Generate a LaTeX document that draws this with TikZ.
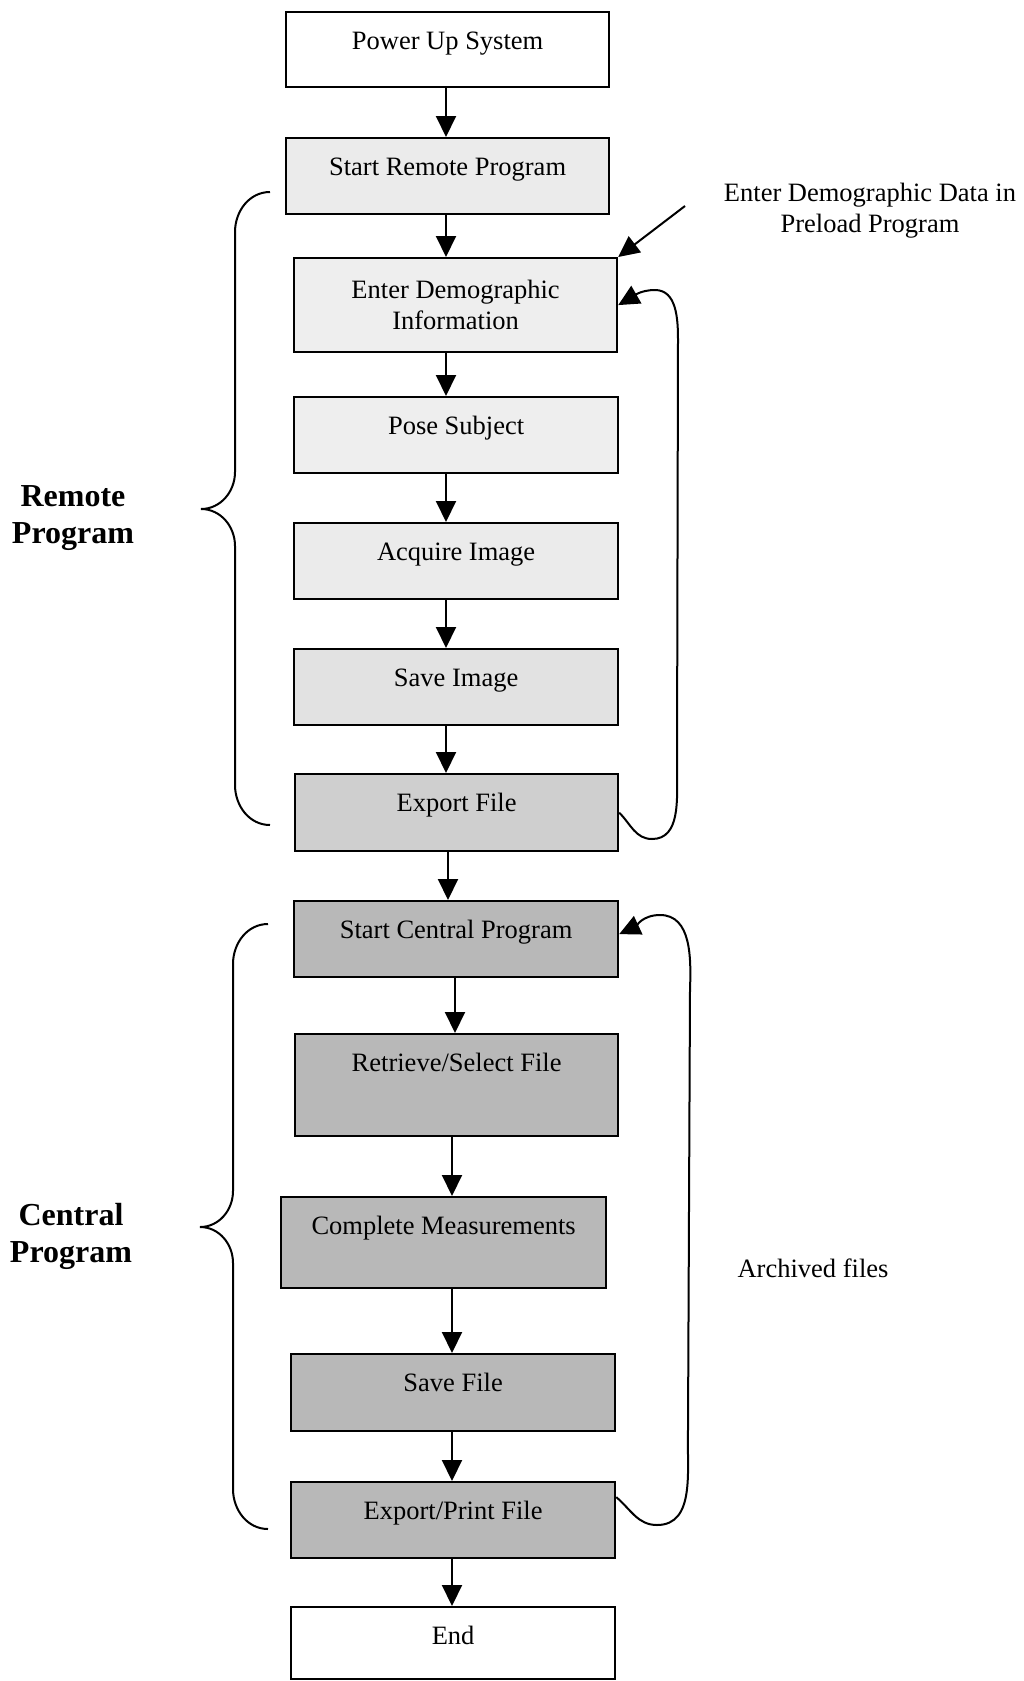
\documentclass[tikz,border=0pt]{standalone}
\usepackage{fontspec}
\setmainfont{Liberation Serif}
\usetikzlibrary{arrows.meta}
\definecolor{gA}{HTML}{EBEBEB}
\definecolor{gB}{HTML}{EEEEEE}
\definecolor{gC}{HTML}{E2E2E2}
\definecolor{gD}{HTML}{CFCFCF}
\definecolor{gE}{HTML}{B8B8B8}
\begin{document}
\begin{tikzpicture}[x=1pt,y=-1pt,
  boxbase/.style={draw=black, line width=2.2pt, anchor=north west, inner xsep=0pt, inner ysep=0pt,
    align=center, font=\fontsize{26.5}{31}\selectfont},
  box/.style={boxbase, text height=37pt},
  arr/.style={line width=2pt, -{Triangle[length=21pt,width=20pt]}},
  loop/.style={line width=2pt, -{Triangle[length=21pt,width=20pt]}},
  brc/.style={line width=2pt},
  lbl/.style={font=\fontsize{26.5}{31}\selectfont, align=center},
  blbl/.style={font=\fontsize{32}{37}\selectfont\bfseries, align=center}]
\useasboundingbox (0,0) rectangle (1023,1681);

% boxes
\node[box, fill=white, minimum width=323pt, text depth=38pt] (pu) at (285,11) {Power Up System};
\node[box, fill=gA, minimum width=323pt, text depth=39pt] (sr) at (285,137) {Start Remote Program};
\node[boxbase, fill=gB, minimum width=323pt, minimum height=94pt] (ed) at (293,257) {Enter Demographic\\Information};
\node[box, fill=gB, minimum width=324pt, text depth=39pt] (ps) at (293,396) {Pose Subject};
\node[box, fill=gA, minimum width=324pt, text depth=39pt] (ai) at (293,522) {Acquire Image};
\node[box, fill=gC, minimum width=324pt, text depth=39pt] (si) at (293,648) {Save Image};
\node[box, fill=gD, minimum width=323pt, text depth=40pt] (ef) at (294,773) {Export File};
\node[box, fill=gE, minimum width=324pt, text depth=39pt] (sc) at (293,900) {Start Central Program};
\node[box, fill=gE, minimum width=323pt, text depth=65pt] (rs) at (294,1033) {Retrieve/Select File};
\node[box, fill=gE, minimum width=325pt, text depth=54pt] (cm) at (280,1196) {Complete Measurements};
\node[box, fill=gE, minimum width=324pt, text depth=40pt] (sf) at (290,1353) {Save File};
\node[box, fill=gE, minimum width=324pt, text depth=39pt] (ep) at (290,1481) {Export/Print File};
\node[box, fill=white, minimum width=324pt, text depth=35pt] (en) at (290,1606) {End};

% arrow columns
\coordinate (xa) at (446,0);
\coordinate (xb) at (448,0);
\coordinate (xc) at (455,0);
\coordinate (xd) at (452,0);

\draw[arr] (pu.south -| xa) -- (sr.north -| xa);
\draw[arr] (sr.south -| xa) -- (ed.north -| xa);
\draw[arr] (ed.south -| xa) -- (ps.north -| xa);
\draw[arr] (ps.south -| xa) -- (ai.north -| xa);
\draw[arr] (ai.south -| xa) -- (si.north -| xa);
\draw[arr] (si.south -| xa) -- (ef.north -| xa);
\draw[arr] (ef.south -| xb) -- (sc.north -| xb);
\draw[arr] (sc.south -| xc) -- (rs.north -| xc);
\draw[arr] (rs.south -| xd) -- (cm.north -| xd);
\draw[arr] (cm.south -| xd) -- (sf.north -| xd);
\draw[arr] (sf.south -| xd) -- (ep.north -| xd);
\draw[arr] (ep.south -| xd) -- (en.north -| xd);

% annotation
\node[lbl] (pre) at (870,211) {Enter Demographic Data in\\Preload Program};
\coordinate (prestart) at (685,206);
\draw[arr] (prestart) -- (ed.north east);

% loop back arrows
\draw[loop] (ef.east) to[out=-45,in=180] (652,839) to[out=0,in=-90] (677,770)
  -- (678,340) to[out=90,in=0] (655,290) to[out=180,in=30] (ed.east);
\draw[loop] ([yshift=23pt]ep.east) to[out=-40,in=180] (657,1525) to[out=0,in=-92] (688,1430)
  -- (690,990) to[out=88,in=0] (660,915) to[out=180,in=25] ([yshift=5pt]sc.east);
\node[lbl] (arch) at (813,1268) {Archived files};

% braces
\draw[brc] (270,192) to[out=180,in=90] (235,232) -- (235,472) to[out=-90,in=0] (201,509)
  to[out=0,in=90] (235,546) -- (235,785) to[out=-90,in=180] (270,825);
\draw[brc] (268,924) to[out=180,in=90] (233,964) -- (233,1191) to[out=-90,in=0] (200,1227)
  to[out=0,in=90] (233,1263) -- (233,1489) to[out=-90,in=180] (268,1529);

\node[blbl] (rp) at (73,518) {Remote\\Program};
\node[blbl] (cp) at (71,1236) {Central\\Program};
\end{tikzpicture}
\end{document}
